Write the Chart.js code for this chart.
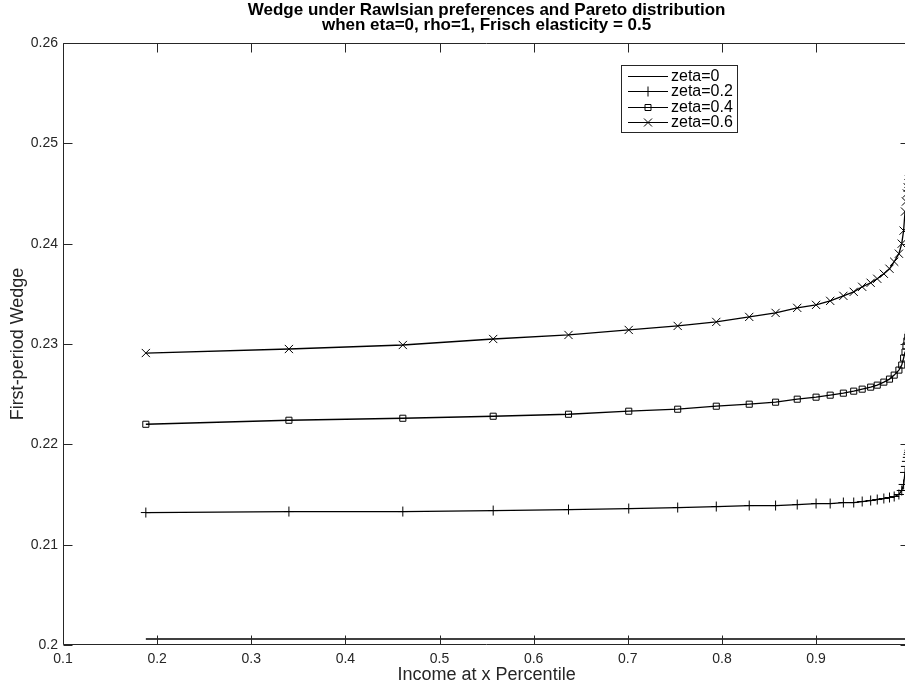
<!DOCTYPE html>
<html>
<head>
<meta charset="utf-8">
<title>Wedge under Rawlsian preferences</title>
<script src="https://cdn.jsdelivr.net/npm/chart.js@4/dist/chart.umd.min.js"></script>
<style>
    html, body { margin: 0; padding: 0; background: #fff; overflow: hidden; }
    #wrap { width: 905px; height: 686px; overflow: hidden; position: relative; }
    #wedgeChart { position: absolute; left: 0; top: 0; }
</style>
</head>
<body>
<div id="wrap">
    <canvas id="wedgeChart" width="917" height="686"></canvas>
</div>
<script>
// Percentiles where the markers sit
const percentiles = [0.188, 0.340, 0.461, 0.557, 0.637, 0.701, 0.753, 0.794, 0.829, 0.857,
    0.880, 0.900, 0.915, 0.929, 0.940, 0.949, 0.958, 0.965, 0.972, 0.978,
    0.983, 0.988, 0.991, 0.993, 0.9945, 0.9955, 0.9965, 0.9975, 0.9982, 0.9988,
    0.9993, 0.9997];

// zeta = 0 is flat, only its two ends
const zeta0X = [0.188, 0.9997];
const zeta0 = [0.2006, 0.2006];

const zeta02 = [0.2132, 0.2133, 0.2133, 0.2134, 0.2135, 0.2136, 0.2137, 0.2138, 0.2139, 0.2139,
    0.2140, 0.2141, 0.2141, 0.2142, 0.2142, 0.2143, 0.2144, 0.2145, 0.2146, 0.2147,
    0.2148, 0.2150, 0.2154, 0.2160, 0.2172, 0.2178, 0.2183, 0.2187, 0.2190, 0.2192,
    0.2194, 0.2195];

const zeta04 = [0.2220, 0.2224, 0.2226, 0.2228, 0.2230, 0.2233, 0.2235, 0.2238, 0.2240, 0.2242,
    0.2245, 0.2247, 0.2249, 0.2251, 0.2253, 0.2255, 0.2257, 0.2259, 0.2262, 0.2265,
    0.2269, 0.2274, 0.2279, 0.2286, 0.2292, 0.2298, 0.2303, 0.2307, 0.2310, 0.2312,
    0.2314, 0.2315];

const zeta06 = [0.2291, 0.2295, 0.2299, 0.2305, 0.2309, 0.2314, 0.2318, 0.2322, 0.2327, 0.2331,
    0.2336, 0.2339, 0.2343, 0.2348, 0.2352, 0.2357, 0.2361, 0.2365, 0.2370, 0.2375,
    0.2382, 0.2390, 0.2400, 0.2413, 0.2432, 0.2442, 0.2450, 0.2456, 0.2460, 0.2464,
    0.2467, 0.2470];

const seriesLabels = ['zeta=0', 'zeta=0.2', 'zeta=0.4', 'zeta=0.6'];
const xTicks = [0.1, 0.2, 0.3, 0.4, 0.5, 0.6, 0.7, 0.8, 0.9, 1.0];
const yTicks = [0.2, 0.21, 0.22, 0.23, 0.24, 0.25, 0.26];

const AXIS_COLOR = '#262626';
const FONT = '"Liberation Sans", Arial, Helvetica, sans-serif';

function toPoints(xs, ys) {
    return xs.map((x, i) => ({ x: x, y: ys[i] }));
}

// small marker painter, used for the legend samples
function drawMarker(ctx, style, x, y) {
    ctx.beginPath();
    if (style === 'cross') {
        ctx.moveTo(x - 5, y); ctx.lineTo(x + 5, y);
        ctx.moveTo(x, y - 5); ctx.lineTo(x, y + 5);
    } else if (style === 'crossRot') {
        ctx.moveTo(x - 4, y - 4); ctx.lineTo(x + 4, y + 4);
        ctx.moveTo(x - 4, y + 4); ctx.lineTo(x + 4, y - 4);
    } else if (style === 'rect') {
        ctx.rect(x - 3, y - 3, 6, 6);
    }
    ctx.stroke();
}

const markerStyles = [false, 'cross', 'rect', 'crossRot'];

// MATLAB-like box with inward ticks
const framePlugin = {
    id: 'matlabFrame',
    afterDatasetsDraw(chart) {
        const ctx = chart.ctx;
        const a = chart.chartArea;
        const xs = chart.scales.x;
        const ys = chart.scales.y;
        const L = Math.round(a.left) + 0.5, R = Math.round(a.right) - 0.5;
        const T = Math.round(a.top) + 0.5, B = Math.round(a.bottom) - 0.5;
        const len = 9;
        ctx.save();
        ctx.strokeStyle = AXIS_COLOR;
        ctx.lineWidth = 1;
        ctx.beginPath();
        ctx.rect(L, T, R - L, B - T);
        xTicks.forEach(v => {
            const px = Math.round(xs.getPixelForValue(v)) + 0.5;
            ctx.moveTo(px, B); ctx.lineTo(px, B - len);
            ctx.moveTo(px, T); ctx.lineTo(px, T + len);
        });
        yTicks.forEach(v => {
            const py = Math.round(ys.getPixelForValue(v)) + 0.5;
            ctx.moveTo(L, py); ctx.lineTo(L + len, py);
            ctx.moveTo(R, py); ctx.lineTo(R - len, py);
        });
        ctx.stroke();
        ctx.restore();
    }
};

// legend box in the upper right, drawn like the MATLAB one
const legendPlugin = {
    id: 'matlabLegend',
    afterDraw(chart) {
        const ctx = chart.ctx;
        const box = { x: 621.5, y: 65.5, w: 116, h: 67 };
        const rows = [75.5, 91, 106.5, 122];
        ctx.save();
        ctx.fillStyle = '#fff';
        ctx.fillRect(box.x, box.y, box.w, box.h);
        ctx.strokeStyle = AXIS_COLOR;
        ctx.lineWidth = 1;
        ctx.strokeRect(box.x, box.y, box.w, box.h);
        ctx.font = '16px ' + FONT;
        ctx.textBaseline = 'middle';
        ctx.textAlign = 'left';
        seriesLabels.forEach((label, i) => {
            const y = Math.round(rows[i]) + 0.5;
            ctx.strokeStyle = '#000';
            ctx.lineWidth = 1.2;
            ctx.beginPath();
            ctx.moveTo(628, y); ctx.lineTo(668, y);
            ctx.stroke();
            ctx.lineWidth = 1;
            if (markerStyles[i]) drawMarker(ctx, markerStyles[i], 648, y);
            ctx.fillStyle = '#000';
            ctx.fillText(label, 671, rows[i] + 1);
        });
        ctx.restore();
    }
};

function lineSet(label, data, style, radius) {
    return {
        label: label,
        data: data,
        borderColor: '#000',
        borderWidth: 1.3,
        tension: 0,
        pointStyle: style || 'circle',
        pointRadius: style ? radius : 0,
        pointHoverRadius: style ? radius : 0,
        pointBorderColor: '#000',
        pointBackgroundColor: 'rgba(0,0,0,0)',
        pointBorderWidth: 1,
        fill: false
    };
}

const ctx = document.getElementById('wedgeChart').getContext('2d');
const wedgeChart = new Chart(ctx, {
    type: 'line',
    data: {
        datasets: [
            lineSet(seriesLabels[0], toPoints(zeta0X, zeta0), false, 0),
            lineSet(seriesLabels[1], toPoints(percentiles, zeta02), 'cross', 5),
            lineSet(seriesLabels[2], toPoints(percentiles, zeta04), 'rect', 4.3),
            lineSet(seriesLabels[3], toPoints(percentiles, zeta06), 'crossRot', 5.8)
        ]
    },
    options: {
        responsive: false,
        maintainAspectRatio: false,
        devicePixelRatio: 1,
        animation: false,
        events: [],
        layout: { padding: { left: 0, right: 0, top: 0, bottom: 0 } },
        plugins: {
            legend: { display: false },
            tooltip: { enabled: false },
            title: {
                display: true,
                fullSize: false,
                text: ['Wedge under Rawlsian preferences and Pareto distribution',
                       'when eta=0, rho=1, Frisch elasticity = 0.5'],
                color: '#000',
                font: { family: FONT, size: 17, weight: 'bold', lineHeight: 0.9 },
                padding: { top: 2.5, bottom: 9.9 }
            }
        },
        scales: {
            x: {
                type: 'linear',
                min: 0.1,
                max: 1.0,
                grid: { display: false, drawTicks: false },
                border: { display: false },
                afterBuildTicks(scale) {
                    scale.ticks = xTicks.map(v => ({ value: v }));
                },
                afterFit(scale) { scale.height = 41; },
                ticks: {
                    autoSkip: false,
                    maxRotation: 0,
                    padding: 6,
                    color: AXIS_COLOR,
                    font: { family: FONT, size: 14 },
                    callback: v => (v > 0.95 ? '' : String(+v.toFixed(1)))
                },
                title: {
                    display: true,
                    text: 'Income at x Percentile',
                    color: AXIS_COLOR,
                    font: { family: FONT, size: 18 },
                    padding: { top: 0, bottom: 0 }
                }
            },
            y: {
                type: 'linear',
                min: 0.2,
                max: 0.26,
                grid: { display: false, drawTicks: false },
                border: { display: false },
                afterBuildTicks(scale) {
                    scale.ticks = yTicks.map(v => ({ value: v }));
                },
                afterFit(scale) { scale.width = 63; },
                ticks: {
                    autoSkip: false,
                    padding: 5,
                    color: AXIS_COLOR,
                    font: { family: FONT, size: 14 },
                    callback: v => String(+v.toFixed(2))
                },
                title: {
                    display: true,
                    text: 'First-period Wedge',
                    color: AXIS_COLOR,
                    font: { family: FONT, size: 18 },
                    padding: { top: 7, bottom: 0 }
                }
            }
        }
    },
    plugins: [framePlugin, legendPlugin]
});
</script>
</body>
</html>
